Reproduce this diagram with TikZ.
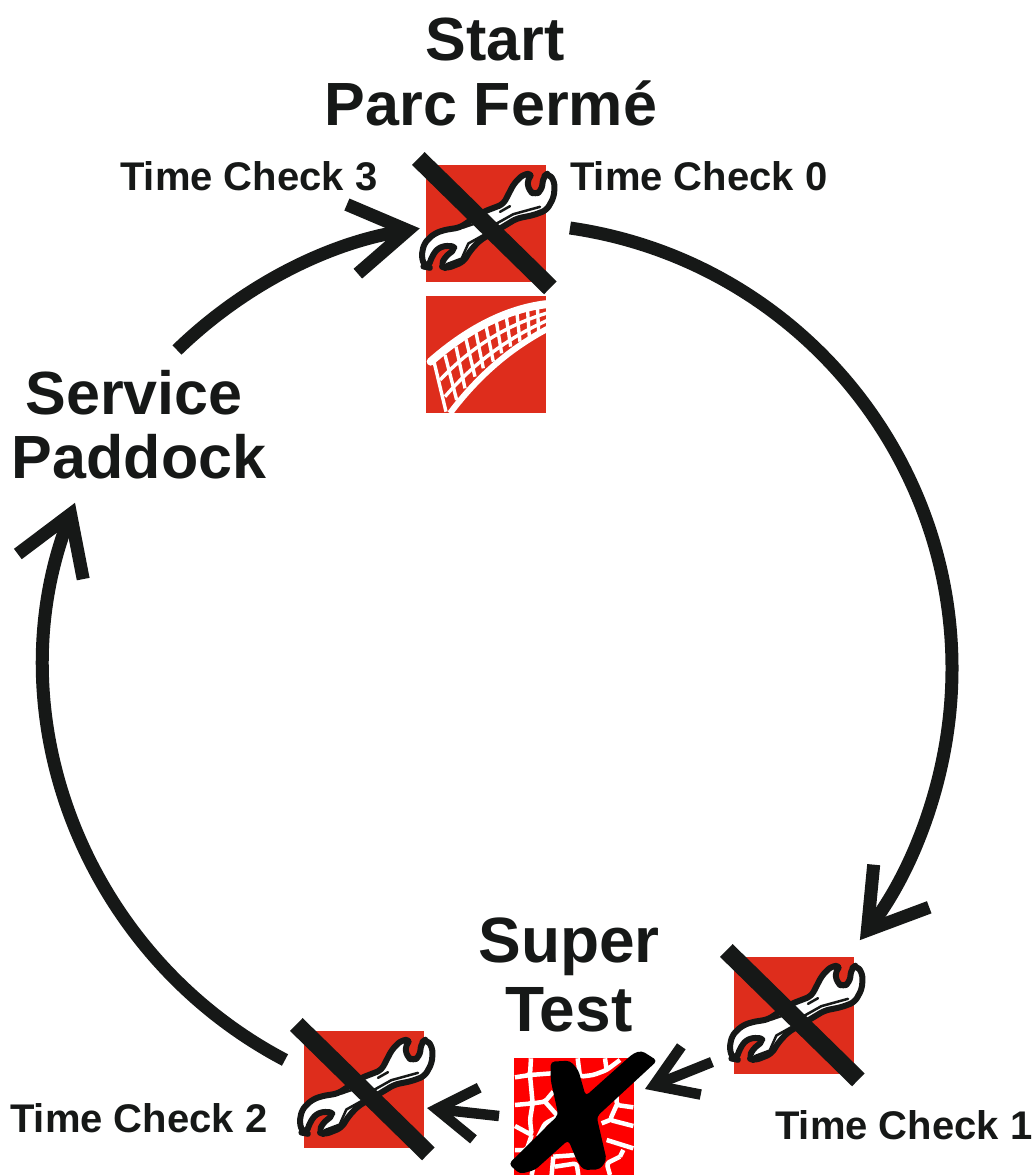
\documentclass[tikz,border=0pt]{standalone}
\usepackage{fontspec}
\setmainfont{Liberation Sans}
\usetikzlibrary{arrows.meta,calc}
\definecolor{ink}{HTML}{161817}
\definecolor{brick}{HTML}{DE2D1C}
\definecolor{pure}{HTML}{FE0000}
\tikzset{
 x=1pt,y=-1pt,
 big/.style={font=\fontsize{61}{64}\selectfont\bfseries,text=ink,align=center,inner sep=0pt},
 bigger/.style={font=\fontsize{64}{69}\selectfont\bfseries,text=ink,align=center,inner sep=0pt},
 small/.style={font=\fontsize{40}{46}\selectfont\bfseries,text=ink,inner sep=0pt,anchor=base west},
 ring/.style={draw=ink,line width=13pt,-{Straight Barb[length=56pt,width=70pt,line width=13pt,sharp]}},
 short/.style={draw=ink,line width=10.5pt,-{Straight Barb[length=40pt,width=52pt,line width=10.5pt,sharp]}},
 square/.style={fill=brick,draw=none},
 pics/wrench/.style={code={
  \begin{scope}[x=.3333pt,y=-.3333pt,shift={(-258,-250)}]
   \filldraw[fill=white,draw=ink,line width=6pt,line join=round,rounded corners=5pt]
     (75,380)--(64,350)--(72,310)--(100,282)--(130,270)--(180,262)--(250,215)--(310,192)--(342,130)--(370,102)--(398,100)--(382,118)--(386,150)--(405,165)--(425,150)--(430,110)--(445,98)--(464,125)--(462,170)--(440,210)--(400,225)--(350,235)--(300,265)--(240,300)--(212,330)--(190,365)--(140,385)--(122,378)--(135,350)--(168,325)--(150,315)--(115,322)--(95,350)--(85,382)--cycle;
   \draw[ink,line width=2.5pt,line cap=round] (190,262)--(225,250) (300,215)--(330,198) (290,250)--(340,222)--(420,200) (140,372)--(185,355)--(205,310)--(250,285);
   \draw[ink,line width=18pt] (55,55)--(451,443);
  \end{scope}
 }}
}
\begin{document}
\begin{tikzpicture}
\useasboundingbox (0,0) rectangle (1031,1175);
% squares
\fill[square] (426,165) rectangle (546,282);
\fill[square] (734,957) rectangle (854,1074);
\fill[square] (304,1031) rectangle (424,1148);
\fill[square] (426,296) rectangle (546,413);
% net
\begin{scope}
 \clip (426,296) rectangle (546,413);
 \begin{scope}[shift={(400,140)},x=.3333pt,y=-.3333pt]
  \draw[white,line width=8pt,line cap=round] (92,665) .. controls (200,570) and (320,505) .. (445,492);
  \draw[white,line width=6pt] (150,820) .. controls (240,700) and (340,620) .. (445,565);
  \draw[white,line width=3.4pt]
   (120,720) .. controls (215,620) and (320,555) .. (445,518)
   (135,770) .. controls (225,665) and (330,590) .. (445,540);
  \draw[white,line width=3.4pt] (102,665)--(138,815) (135,645)--(170,780) (168,620)--(195,745) (198,598)--(225,710)
   (228,578)--(250,685) (258,558)--(280,665) (288,538)--(305,640) (318,525)--(332,620) (350,512)--(360,605) (382,500)--(388,590) (412,495)--(416,575);
 \end{scope}
\end{scope}
% super test tile
\fill[pure] (514,1058) rectangle (634,1175);
\begin{scope}
 \clip (514,1058) rectangle (634,1175);
 \begin{scope}[shift={(420,1020)},x=.3333pt,y=-.3333pt]
  \draw[white,line width=4.5pt,line join=round,rounded corners=3pt]
   (333,115)--(330,165)--(285,172)
   (330,165)--(395,160)
   (473,115)--(480,170)--(520,165)--(560,150)--(600,120)
   (555,115)--(560,150)
   (330,165)--(338,250)--(285,255)
   (338,250)--(330,300)--(335,345)--(285,318)
   (338,250)--(375,245)--(400,215)
   (375,245)--(415,290)--(375,310)--(355,350)
   (335,345)--(320,390)--(285,390)
   (320,390)--(340,440)--(335,465)
   (590,210)--(590,255)--(640,262)
   (590,255)--(570,300)--(640,318)
   (570,300)--(545,310)
   (560,360)--(640,385)
   (600,410)--(610,390)
   (600,410)--(560,430)--(570,465)
   (400,410)--(470,405)
   (400,410)--(395,465)
   (405,440)--(470,430)--(475,465);
 \end{scope}
 \end{scope}
\begin{scope}[shift={(420,1020)},x=.3333pt,y=-.3333pt]
 \fill[black,rounded corners=4pt]
  (392,125)--(450,122)--(475,150)--(497,228)--(640,100)--(665,92)--(712,122)--(530,290)--(560,420)--(540,448)--(490,450)--(470,420)--(445,360)--(345,450)--(300,462)--(266,432)--(415,285)--(392,180)--cycle;
\end{scope}
% wrenches
\pic at (486,223.5) {wrench};
\pic at (794,1015.5) {wrench};
\pic at (364,1089.5) {wrench};
% texts
\node[big] (start) at (491,72) {\hspace*{8pt}Start\\Parc Fermé};
\node[big] (service) at (139,424.5) {Service\hspace*{10pt}\\Paddock};
\node[bigger] (super) at (569,975) {Super\\Test};
\node[small] (tc3) at (120,190) {Time Check 3};
\node[small] (tc0) at (570,190) {Time Check 0};
\node[small] (tc2) at (10,1132) {Time Check 2};
\node[small] (tc1) at (775,1139) {Time Check 1};
% ring arrows
\coordinate (a0) at (570,228);
\coordinate (b0) at (177,350);
\coordinate (c0) at (285,1060);
\draw[ring] (a0) arc[start angle=-81.8,end angle=37.5,radius=445.5];
\draw[ring] (c0) arc[start angle=117.7,end angle=201,radius=448];
\draw[ring] (b0) arc[start angle=225.8,end angle=261,radius=449];
% short arrows
\coordinate (d0) at (712,1062);
\coordinate (d1) at (645,1089);
\coordinate (e0) at (499,1116);
\coordinate (e1) at (427,1108);
\draw[short] (d0)--(d1);
\draw[short] (e0)--(e1);
\end{tikzpicture}
\end{document}
